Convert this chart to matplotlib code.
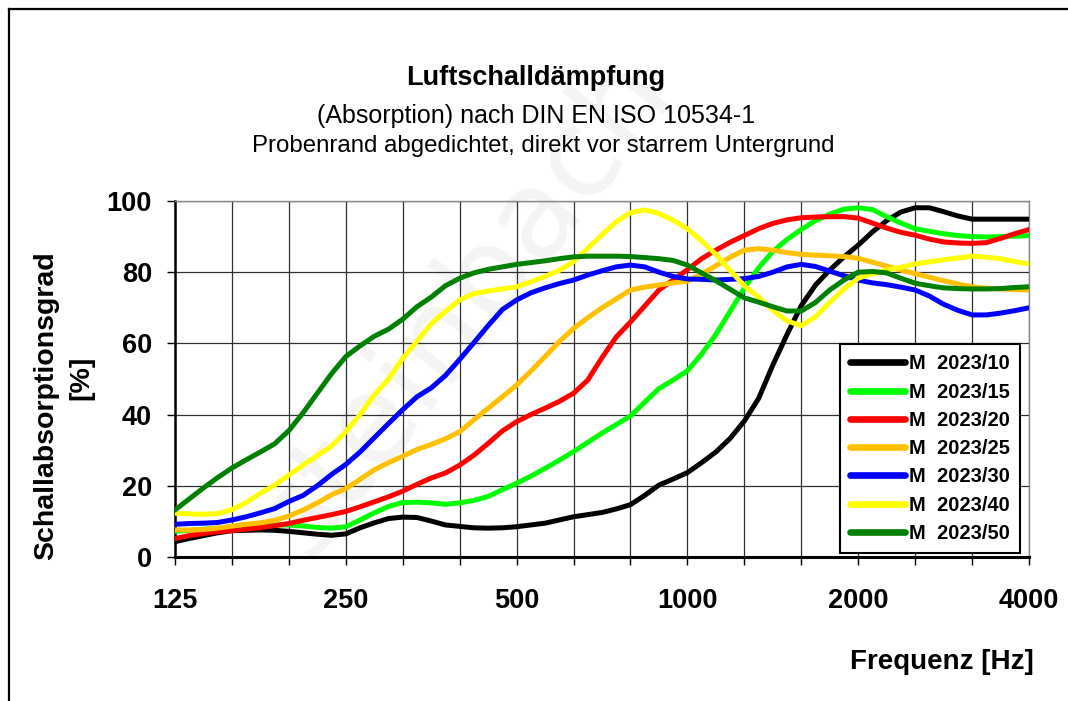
import matplotlib
matplotlib.use('Agg')
import matplotlib.pyplot as plt
from matplotlib.lines import Line2D
from matplotlib.ticker import FixedLocator, FixedFormatter, NullLocator

# ---------------- data (1/12-octave resolution) ----------------
freq = [125, 132.4, 140.3, 148.6, 157.5, 166.9, 176.8, 187.3, 198.4, 210.2,
        222.7, 236.0, 250, 264.9, 280.6, 297.3, 315, 333.7, 353.6, 374.6,
        396.9, 420.4, 445.4, 471.9, 500, 529.7, 561.2, 594.6, 630, 667.4,
        707.1, 749.2, 793.7, 840.9, 890.9, 943.9, 1000, 1059.5, 1122.5, 1189.2,
        1259.9, 1334.8, 1414.2, 1498.3, 1587.4, 1681.8, 1781.8, 1887.7, 2000,
        2118.9, 2244.9, 2378.4, 2519.8, 2669.6, 2828.4, 2996.6, 3174.8, 3363.6,
        3563.6, 3775.5, 4000]

m2023_10 = [4.3, 5.2, 6.0, 6.8, 7.4, 7.5, 7.6, 7.5, 7.2, 6.8,
            6.4, 6.1, 6.5, 8.2, 9.6, 10.8, 11.2, 11.1, 10.1, 9.0,
            8.6, 8.2, 8.1, 8.2, 8.5, 9.0, 9.5, 10.4, 11.3, 11.9,
            12.5, 13.5, 14.7, 17.3, 20.2, 21.9, 23.7, 26.5, 29.5, 33.3,
            38.2, 44.5, 53.9, 62.5, 70.6, 76.4, 80.6, 84.3, 87.6, 91.3,
            94.5, 96.9, 98.1, 98.1, 97.0, 95.8, 94.9, 94.9, 94.9, 94.9, 94.9]
m2023_15 = [7.2, 7.5, 7.8, 8.1, 8.4, 8.7, 8.9, 9.0, 9.0, 8.7,
            8.3, 8.1, 8.5, 10.4, 12.4, 14.2, 15.3, 15.4, 15.2, 14.8,
            15.2, 15.9, 17.0, 18.9, 20.7, 22.7, 24.9, 27.2, 29.6, 32.2,
            34.8, 37.2, 39.6, 43.5, 47.3, 49.7, 52.3, 57.0, 62.5, 69.0,
            75.5, 81.2, 85.8, 89.2, 92.0, 94.5, 96.3, 97.7, 98.1, 97.6,
            95.6, 93.8, 92.2, 91.5, 90.8, 90.3, 90.0, 89.9, 90.0, 90.1, 90.3]
m2023_20 = [5.2, 6.0, 6.6, 7.1, 7.4, 7.8, 8.3, 8.8, 9.4, 10.3,
            11.1, 11.9, 12.8, 14.1, 15.5, 16.9, 18.5, 20.4, 22.2, 23.6,
            25.8, 28.6, 31.9, 35.4, 38.0, 40.0, 41.8, 43.7, 46.0, 49.7,
            56.0, 61.8, 66.0, 70.5, 75.0, 77.8, 80.7, 83.8, 86.2, 88.4,
            90.3, 92.2, 93.7, 94.7, 95.3, 95.5, 95.6, 95.6, 95.2, 93.8,
            92.4, 91.2, 90.4, 89.3, 88.5, 88.2, 88.1, 88.3, 89.5, 90.8, 92.0]
m2023_25 = [7.6, 7.6, 7.7, 8.1, 8.7, 9.2, 9.6, 10.3, 11.5, 13.2,
            15.2, 17.5, 19.2, 21.8, 24.5, 26.5, 28.3, 30.2, 31.6, 33.2,
            35.2, 38.5, 41.8, 45.0, 48.3, 52.2, 56.3, 60.5, 64.2, 67.2,
            70.0, 72.5, 75.0, 75.8, 76.4, 77.0, 77.5, 79.5, 81.8, 84.2,
            86.2, 86.6, 86.2, 85.5, 85.0, 84.8, 84.6, 84.4, 83.9, 82.8,
            81.7, 80.6, 79.6, 78.6, 77.6, 76.7, 75.9, 75.5, 75.3, 75.1, 75.0]
m2023_30 = [9.2, 9.4, 9.5, 9.7, 10.4, 11.3, 12.4, 13.6, 15.6, 17.3,
            20.0, 23.2, 26.0, 29.5, 33.5, 37.5, 41.4, 45.0, 47.5, 51.0,
            55.5, 60.2, 65.0, 69.5, 72.2, 74.2, 75.6, 76.8, 77.8, 79.2,
            80.4, 81.5, 82.0, 81.5, 80.0, 78.8, 78.1, 78.0, 77.8, 78.0,
            78.2, 78.8, 80.0, 81.5, 82.2, 81.6, 80.3, 79.0, 77.8, 77.0,
            76.5, 75.8, 75.0, 73.3, 71.0, 69.3, 68.0, 68.0, 68.5, 69.2, 70.0]
m2023_40 = [12.3, 12.1, 12.0, 12.2, 13.3, 15.3, 17.9, 20.2, 23.0, 25.8,
            28.5, 31.2, 35.2, 40.0, 45.5, 50.0, 55.8, 60.6, 65.5, 69.0,
            72.2, 74.0, 74.7, 75.3, 75.9, 77.3, 78.8, 80.5, 83.0, 86.7,
            90.5, 94.2, 96.7, 97.5, 96.5, 94.6, 92.2, 88.8, 85.0, 80.5,
            76.2, 73.0, 69.3, 66.3, 65.0, 67.5, 71.5, 75.3, 78.3, 79.6,
            80.6, 81.4, 82.3, 82.9, 83.5, 84.0, 84.5, 84.2, 83.8, 83.0, 82.3]
m2023_50 = [13.2, 16.3, 19.4, 22.3, 25.0, 27.3, 29.5, 31.8, 35.5, 40.5,
            46.0, 51.5, 56.3, 59.3, 62.0, 64.0, 66.8, 70.3, 73.0, 76.2,
            78.3, 79.8, 80.8, 81.5, 82.2, 82.7, 83.2, 83.8, 84.3, 84.5,
            84.5, 84.5, 84.4, 84.1, 83.8, 83.3, 82.0, 79.8, 77.6, 75.2,
            72.8, 71.6, 70.3, 69.1, 69.1, 71.5, 75.0, 77.8, 80.0, 80.2,
            79.8, 78.3, 76.9, 76.2, 75.6, 75.4, 75.3, 75.3, 75.4, 75.7, 75.9]

series_labels = ['M  2023/10', 'M  2023/15', 'M  2023/20', 'M  2023/25',
                 'M  2023/30', 'M  2023/40', 'M  2023/50']
series_values = [m2023_10, m2023_15, m2023_20, m2023_25, m2023_30, m2023_40, m2023_50]
series_colors = ['#000000', '#00FF00', '#FF0000', '#FFC000', '#0000FF', '#FFFF00', '#008000']

grid_freqs = [125, 157.5, 198.4, 250, 315, 396.9, 500, 630, 793.7, 1000, 1259.9,
              1587.4, 2000, 2519.8, 3174.8, 4000]
grid_labels = ['125', '', '', '250', '', '', '500', '', '', '1000', '', '',
               '2000', '', '', '4000']
y_ticks = [0, 20, 40, 60, 80, 100]

title = 'Luftschalldämpfung'
subtitle1 = '(Absorption) nach DIN EN ISO 10534-1'
subtitle2 = 'Probenrand abgedichtet, direkt vor starrem Untergrund'
xlabel = 'Frequenz [Hz]'
ylabel_main = 'Schallabsorptionsgrad'
ylabel_unit = '[%]'

# ---------------- figure ----------------
W, H = 1068, 701
fig = plt.figure(figsize=(W / 100, H / 100), dpi=100)
fig.patch.set_facecolor('white')
plt.rcParams['font.family'] = ['Liberation Sans', 'DejaVu Sans']

ax = fig.add_axes([175 / W, (H - 557) / H, 854 / W, 356 / H])
ax.set_facecolor('none')

# faint watermark
fig.text(465 / W, 1 - 305 / H, 'steinbach', fontsize=88, color='#f4f4f4',
         rotation=52, ha='center', va='center', zorder=-5,
         family=['DejaVu Sans'])

for vals, lab, col in zip(series_values, series_labels, series_colors):
    ax.plot(freq, vals, color=col, lw=3.6, label=lab, solid_capstyle='round',
            solid_joinstyle='round', zorder=3)

ax.set_xscale('log')
ax.set_xlim(125, 4000)
ax.set_ylim(0, 100)
ax.xaxis.set_major_locator(FixedLocator(grid_freqs))
ax.xaxis.set_major_formatter(FixedFormatter(grid_labels))
ax.xaxis.set_minor_locator(NullLocator())
ax.set_yticks(y_ticks)

ax.grid(True, which='major', color='#303030', lw=0.9, zorder=1)
ax.set_axisbelow(True)

for side in ['top', 'right']:
    ax.spines[side].set_color('#888888')
    ax.spines[side].set_linewidth(1.0)
ax.spines['left'].set_color('black')
ax.spines['left'].set_linewidth(1.8)
ax.spines['bottom'].set_color('black')
ax.spines['bottom'].set_linewidth(2.2)

ax.tick_params(axis='both', direction='out', length=5.5, width=1.0, color='black')
ax.tick_params(axis='x', pad=17, labelsize=19.5)
ax.tick_params(axis='y', pad=11, labelsize=19.5)
for t in ax.get_xticklabels() + ax.get_yticklabels():
    t.set_fontweight('bold')

# titles
fig.text(536 / W, 1 - 78 / H, title, ha='center', va='center', fontsize=19.5,
         fontweight='bold')
fig.text(536 / W, 1 - 116 / H, subtitle1, ha='center', va='center', fontsize=18)
fig.text(543 / W, 1 - 146 / H, subtitle2, ha='center', va='center', fontsize=17.3)

# axis labels
fig.text(1034 / W, 1 - 662 / H, xlabel, ha='right', va='center', fontsize=20,
         fontweight='bold')
fig.text(46 / W, 1 - 406 / H, ylabel_main, ha='center', va='center',
         fontsize=20.5, fontweight='bold', rotation=90)
fig.text(81 / W, 1 - 378 / H, ylabel_unit, ha='center', va='center',
         fontsize=20.5, fontweight='bold', rotation=90)

# legend
leg = ax.legend(loc='lower right', bbox_to_anchor=(0.989, 0.011),
                fontsize=14.5, frameon=True, fancybox=False, framealpha=1,
                edgecolor='black', handlelength=2.7, handletextpad=0.2,
                labelspacing=0.46, borderpad=0.5, borderaxespad=0.0)
leg.get_frame().set_linewidth(1.5)
for t in leg.get_texts():
    t.set_fontweight('bold')
for l in leg.get_lines():
    l.set_linewidth(4.8)
leg.set_zorder(5)

# outer frame
fig.add_artist(Line2D([9 / W, 1.0], [1 - 9 / H, 1 - 9 / H], color='black',
                      lw=1.6, transform=fig.transFigure))
fig.add_artist(Line2D([9 / W, 9 / W], [1 - 9 / H, 0.0], color='black',
                      lw=1.6, transform=fig.transFigure))

fig.savefig('out.png', dpi=100, facecolor='white')
